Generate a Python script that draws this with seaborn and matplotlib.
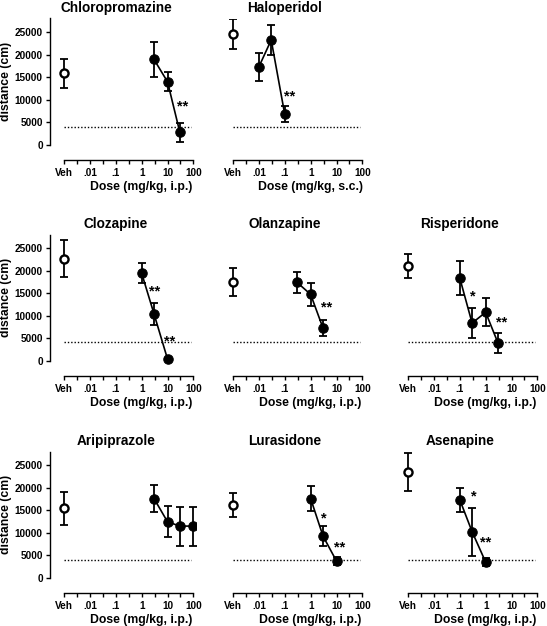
import numpy as np
import pandas as pd
import matplotlib
matplotlib.use("Agg")
import matplotlib.pyplot as plt
import matplotlib.transforms as mtransforms
import seaborn as sns

sns.set_style("ticks")
plt.rcParams["font.family"] = ["Liberation Sans", "DejaVu Sans"]
plt.rcParams["font.weight"] = "bold"
plt.rcParams["axes.labelweight"] = "bold"
plt.rcParams["axes.titleweight"] = "bold"
for key in ["text.color", "axes.labelcolor", "xtick.color", "ytick.color",
            "axes.edgecolor"]:
    plt.rcParams[key] = "black"

# ---------------- data ----------------
drugs = ["Chloropromazine", "Haloperidol", "Clozapine", "Olanzapine",
         "Risperidone", "Aripiprazole", "Lurasidone", "Asenapine"]
routes = ["i.p.", "s.c.", "i.p.", "i.p.", "i.p.", "i.p.", "i.p.", "i.p."]
grid_pos = [(0, 0), (0, 1), (1, 0), (1, 1), (1, 2), (2, 0), (2, 1), (2, 2)]

veh_mean = [15900, 24500, 22650, 17550, 21050, 15450, 16150, 23450]
veh_sem = [3200, 3300, 4100, 3100, 2700, 3600, 2650, 4200]

doses = [[3, 10, 30],
         [0.01, 0.03, 0.1],
         [1, 3, 10],
         [0.3, 1, 3],
         [0.1, 0.3, 1, 3],
         [3, 10, 30, 100],
         [1, 3, 10],
         [0.1, 0.3, 1]]
means = [[18950, 14000, 2800],
         [17300, 23250, 6800],
         [19450, 10450, 450],
         [17400, 14750, 7300],
         [18400, 8400, 10800, 4000],
         [17600, 12450, 11500, 11500],
         [17600, 9300, 3750],
         [17350, 10250, 3550]]
sems = [[3800, 2100, 2100],
        [3150, 3400, 1800],
        [2250, 2400, 300],
        [2400, 2550, 1800],
        [3800, 3400, 3100, 2300],
        [2900, 3400, 4300, 4300],
        [2750, 2200, 900],
        [2650, 5300, 800]]
thresholds = [4050, 4050, 4200, 4200, 4200, 4100, 4000, 3950]

star_x = [[40], [0.16], [3.25, 12.4], [4.1], [0.32, 4.1], [], [3.25, 13.2], [0.35, 1.02]]
star_y = [[9250], [11450], [16300, 5100], [12650], [15200, 9350], [], [14100, 7650], [18850, 8700]]
star_txt = [["**"], ["**"], ["**", "**"], ["**"], ["*", "**"], [], ["*", "**"], ["*", "**"]]

veh_x = 1e-3
xtick_vals = [1e-3, 1e-2, 1e-1, 1, 10, 100]
xtick_labels = ["Veh", ".01", ".1", "1", "10", "100"]
minor_vals = [10 ** (k + 0.5) for k in range(-3, 2)]
ytick_vals = [0, 5000, 10000, 15000, 20000, 25000]

# ---------------- layout ----------------
W, H = 547, 626
fig = plt.figure(figsize=(W / 100, H / 100), dpi=100)

col_left = [50, 219, 394]
row_bottom = [160, 376, 593]
ax_w, ax_h = 146, 141.5
x_lo, x_hi = -3.54, 2.1
y_lo, y_hi = -3300, 28000

for i, name in enumerate(drugs):
    r, c = grid_pos[i]
    ax = fig.add_axes([col_left[c] / W, 1 - row_bottom[r] / H, ax_w / W, ax_h / H])
    ax.set_xscale("log")
    ax.set_xlim(10 ** x_lo, 10 ** x_hi)
    ax.set_ylim(y_lo, y_hi)

    # threshold
    ax.hlines(thresholds[i], veh_x, 80, colors="black",
              linestyles=(0, (1.0, 1.4)), linewidth=1.0)

    # dose-response
    df = pd.DataFrame({"dose": doses[i], "dist": means[i]})
    ax.errorbar(doses[i], means[i], yerr=sems[i], fmt="none", ecolor="black",
                elinewidth=1.3, capsize=3.2, capthick=1.3, zorder=3)
    sns.lineplot(data=df, x="dose", y="dist", ax=ax, color="black",
                 linewidth=1.2, marker="o", markersize=6.8,
                 markerfacecolor="black", markeredgecolor="black", zorder=4)

    # vehicle
    vdf = pd.DataFrame({"dose": [veh_x], "dist": [veh_mean[i]]})
    ax.errorbar([veh_x], [veh_mean[i]], yerr=[veh_sem[i]], fmt="none",
                ecolor="black", elinewidth=1.3, capsize=3.2, capthick=1.3, zorder=3)
    sns.scatterplot(data=vdf, x="dose", y="dist", ax=ax, marker="o", s=34,
                    facecolor="white", edgecolor="black", linewidth=1.7, zorder=5)

    # stars
    off = mtransforms.offset_copy(ax.transData, fig=fig, x=0, y=-5.5, units="points")
    for sx, sy, st in zip(star_x[i], star_y[i], star_txt[i]):
        ax.text(sx, sy, st, transform=off, ha="center", va="baseline",
                fontsize=10.5, fontweight="bold", color="black")

    # axes styling
    for s in ["top", "right"]:
        ax.spines[s].set_visible(False)
    ax.spines["bottom"].set_bounds(1e-3, 100)
    ax.spines["bottom"].set_linewidth(1.0)
    ax.set_xticks(xtick_vals)
    ax.set_xticklabels(xtick_labels)
    ax.set_xticks(minor_vals, minor=True)
    ax.set_xticklabels([], minor=True)
    ax.tick_params(axis="x", which="both", length=3.2, width=1.0, pad=2.5,
                   labelsize=7.2, direction="out", colors="black")
    ax.set_xlabel(f"Dose (mg/kg, {routes[i]})", fontsize=8.8, fontweight="bold",
                  color="black")
    ax.xaxis.set_label_coords((0 - x_lo) / (x_hi - x_lo), -0.145)

    if c == 0:
        ax.spines["left"].set_bounds(0, 28000)
        ax.spines["left"].set_linewidth(1.0)
        ax.set_yticks(ytick_vals)
        ax.set_yticklabels([str(v) for v in ytick_vals])
        ax.tick_params(axis="y", length=3.2, width=1.0, pad=2, labelsize=7.2,
                       colors="black")
        ax.set_ylabel("distance (cm)", fontsize=8.8, fontweight="bold", color="black")
        ax.yaxis.set_label_coords(-0.262, 0.557)
    else:
        ax.spines["left"].set_visible(False)
        ax.set_yticks([])
        ax.set_ylabel("")

    ax.set_title(name, fontsize=9.8, fontweight="bold", x=0.452, pad=5.0,
                 color="black")
    ax.set_facecolor("none")

fig.savefig("out.png", dpi=100, facecolor="white")
